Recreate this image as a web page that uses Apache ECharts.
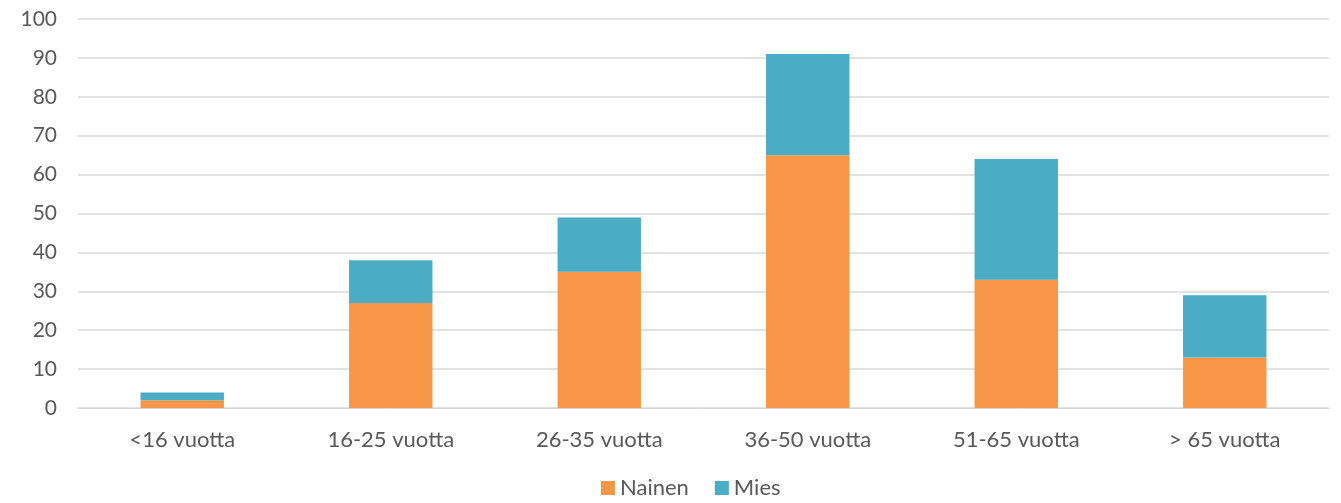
<!DOCTYPE html>
<html><head><meta charset="utf-8">
<script src="https://cdn.jsdelivr.net/npm/echarts@6/dist/echarts.min.js"></script>
<style>html,body{margin:0;padding:0;background:#fff}#c{width:1341px;height:503px}</style>
</head><body><div id="c"></div>
<script>
const categories = ['<16 vuotta','16-25 vuotta','26-35 vuotta','36-50 vuotta','51-65 vuotta','> 65 vuotta'];
const nainen = [2, 27, 35, 65, 33, 13];
const mies = [2, 11, 14, 26, 31, 16];
const yTicks = {min: 0, max: 100, interval: 10};

const chart = echarts.init(document.getElementById('c'));
const font = 'Lato, "Open Sans", sans-serif';
chart.setOption({
  animation: false,
  grid: {left: 78, right: 12, top: 19, bottom: 95},
  legend: {
    bottom: -1, left: 596, itemWidth: 14, itemHeight: 14, itemGap: 26, itemTextGap: 6,
    icon: 'rect',
    textStyle: {color: '#595959', fontSize: 22, fontFamily: font},
    data: ['Nainen', 'Mies']
  },
  xAxis: {
    type: 'category', data: categories,
    axisLine: {lineStyle: {color: '#d9d9d9', width: 1}},
    axisTick: {show: false},
    axisLabel: {color: '#595959', fontSize: 22, fontFamily: font, margin: 21}
  },
  yAxis: {
    type: 'value', min: yTicks.min, max: yTicks.max, interval: yTicks.interval,
    axisLine: {show: false}, axisTick: {show: false},
    splitLine: {lineStyle: {color: '#d9d9d9', width: 1.5}},
    axisLabel: {color: '#595959', fontSize: 21, fontFamily: font, margin: 21}
  },
  series: [
    {name: 'Nainen', type: 'bar', stack: 't', data: nainen, barWidth: '40%',
     itemStyle: {color: '#F79646'}},
    {name: 'Mies', type: 'bar', stack: 't', data: mies, barWidth: '40%',
     itemStyle: {color: '#4BACC6'}}
  ]
});
</script></body></html>
